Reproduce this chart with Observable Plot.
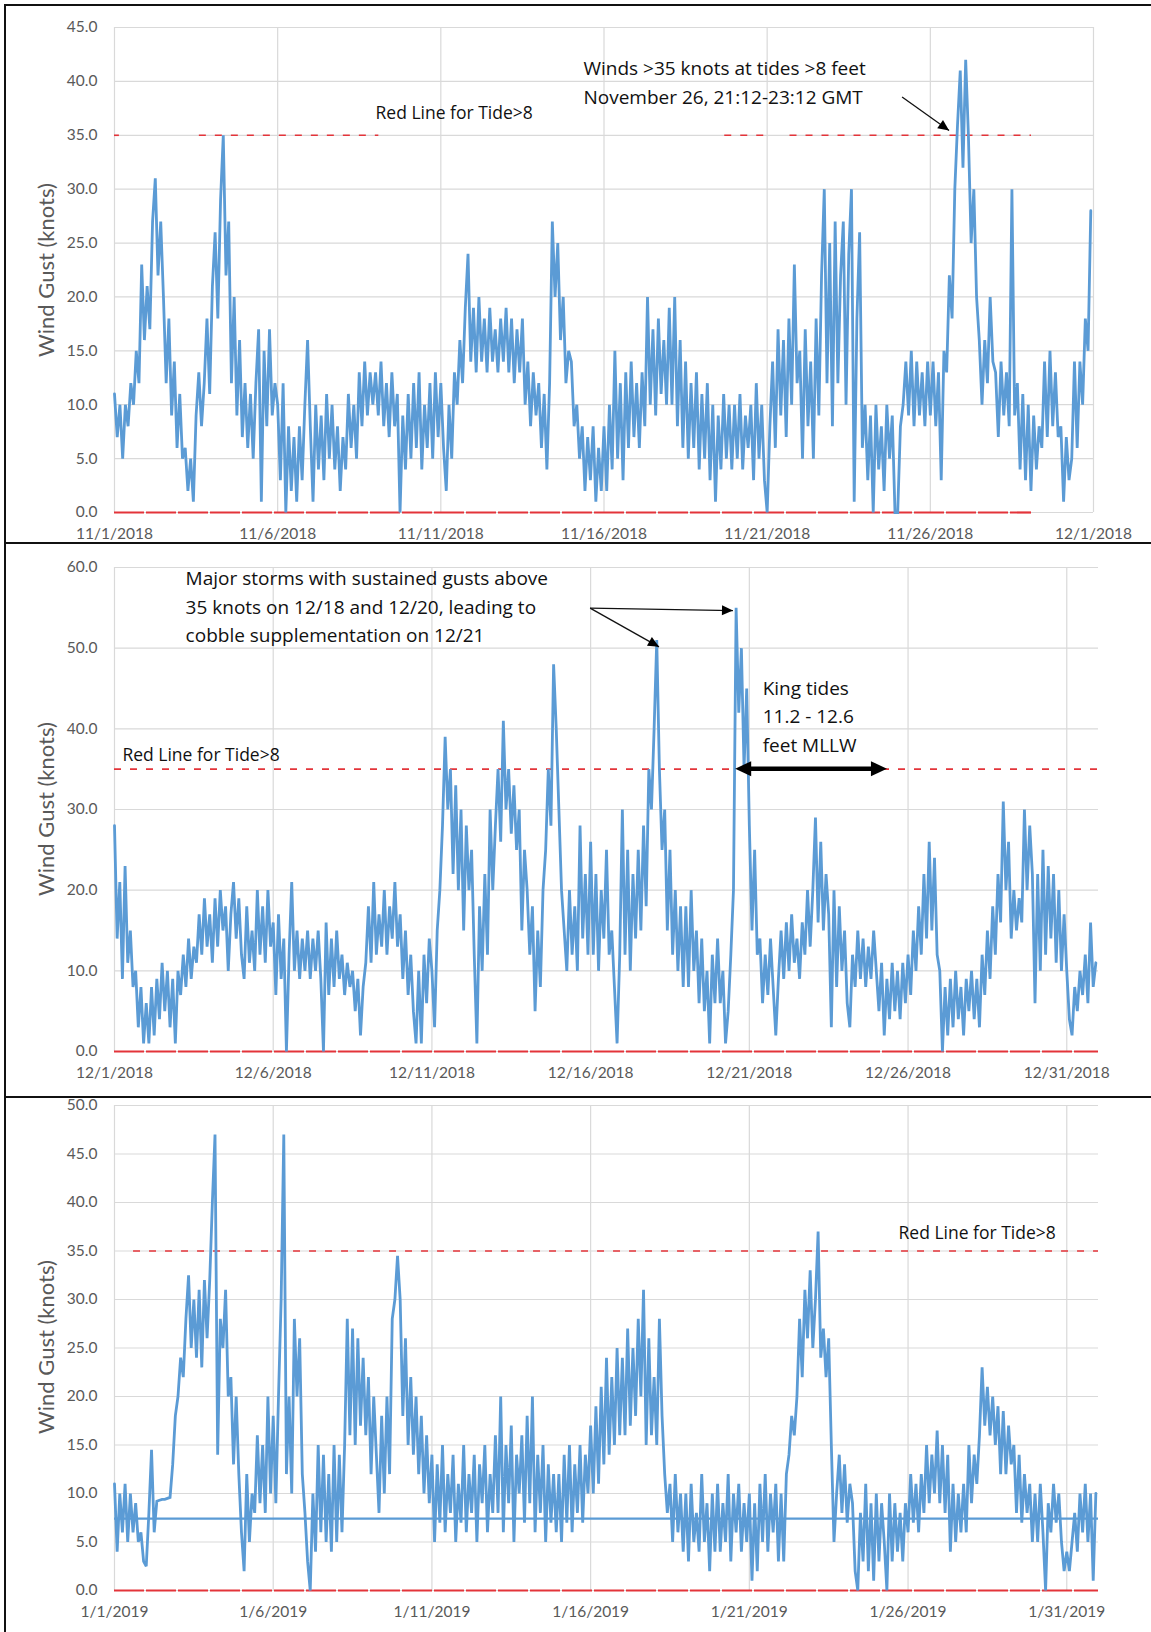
<!DOCTYPE html>
<html>
<head>
<meta charset="utf-8">
<script src="https://cdn.jsdelivr.net/npm/d3@7"></script>
<script src="https://cdn.jsdelivr.net/npm/@observablehq/plot@0.6"></script>
<style>
  html, body { margin: 0; padding: 0; background: #fff; }
  body { width: 1151px; height: 1632px; position: relative; overflow: hidden; font-family: Lato, "Open Sans", sans-serif; }
  .panel { position: absolute; left: 0; width: 1151px; }
  .frame { position: absolute; background: #111; z-index: 5; }
  .ytitle { position: absolute; left: 45px; transform: translate(-50%, -50%) rotate(-90deg); white-space: nowrap;
            font-family: Lato, sans-serif; font-size: 22px; color: #595959; z-index: 4; }
</style>
</head>
<body>
<div id="p1" class="panel" style="top:0px"></div>
<div id="p2" class="panel" style="top:543px"></div>
<div id="p3" class="panel" style="top:1098px"></div>
<div class="ytitle" style="top:270px">Wind Gust (knots)</div>
<div class="ytitle" style="top:809px">Wind Gust (knots)</div>
<div class="ytitle" style="top:1347px">Wind Gust (knots)</div>
<div class="frame" style="left:4px;top:4px;width:1147px;height:2px"></div>
<div class="frame" style="left:4px;top:4px;width:2px;height:1628px"></div>
<div class="frame" style="left:4px;top:542px;width:1147px;height:2px"></div>
<div class="frame" style="left:4px;top:1096px;width:1147px;height:2px"></div>
<script>
// ---------------- DATA (wind gust, knots; one reading every 2 hours, 12 per day) ----------------
const STEP_HOURS = 2;

const nov2018Start = "2018-11-01";
const nov2018End = "2018-12-01";
const nov2018Gust = [
  11, 7, 10, 5, 10, 8, 12, 10, 15, 12, 23, 16,
  21, 17, 27, 31, 22, 27, 20, 12, 18, 9, 14, 6,
  11, 5, 6, 2, 5, 1, 9, 13, 8, 12, 18, 11,
  21, 26, 18, 29, 35, 22, 27, 12, 20, 9, 16, 7,
  12, 6, 11, 5, 12, 17, 1, 15, 8, 17, 9, 12,
  10, 3, 12, 0, 8, 2, 7, 1, 8, 3, 10, 16,
  8, 1, 10, 4, 9, 3, 11, 5, 10, 4, 8, 2,
  7, 4, 11, 6, 10, 5, 13, 8, 14, 9, 13, 10,
  13, 9, 14, 8, 12, 7, 13, 8, 11, 0, 9, 4,
  11, 5, 12, 6, 13, 4, 10, 6, 12, 5, 13, 7,
  12, 6, 2, 10, 5, 13, 10, 16, 12, 19, 24, 14,
  19, 13, 20, 14, 18, 13, 19, 14, 17, 13, 18, 14,
  19, 13, 18, 12, 17, 13, 18, 10, 14, 8, 13, 9,
  12, 6, 11, 4, 12, 27, 20, 25, 16, 20, 12, 15,
  14, 8, 10, 5, 8, 2, 7, 3, 8, 1, 6, 2,
  8, 2, 10, 4, 15, 5, 12, 3, 13, 6, 14, 7,
  12, 6, 13, 8, 20, 10, 17, 9, 18, 11, 16, 10,
  19, 10, 20, 8, 16, 6, 14, 5, 12, 6, 13, 4,
  11, 5, 12, 3, 10, 1, 9, 4, 11, 5, 10, 4,
  10, 5, 11, 4, 9, 6, 10, 3, 12, 5, 10, 3,
  0, 8, 14, 6, 17, 9, 16, 7, 18, 10, 23, 12,
  15, 5, 17, 8, 14, 5, 18, 9, 22, 30, 12, 25,
  8, 27, 12, 22, 27, 10, 24, 30, 1, 18, 26, 6,
  10, 3, 9, 0, 10, 4, 8, 2, 10, 5, 9, 0,
  0, 8, 10, 14, 9, 15, 8, 14, 9, 13, 8, 14,
  9, 14, 8, 13, 3, 15, 13, 22, 18, 30, 36, 41,
  32, 42, 35, 25, 30, 20, 16, 10, 16, 12, 20, 14,
  13, 7, 14, 9, 13, 8, 30, 9, 12, 4, 11, 3,
  10, 2, 9, 4, 8, 6, 14, 7, 15, 8, 13, 7,
  8, 1, 7, 3, 5, 14, 6, 14, 10, 18, 15, 28
];

const dec2018Start = "2018-12-01";
const dec2018End = "2019-01-01";
const dec2018Gust = [
  28, 14, 21, 9, 23, 11, 15, 8, 10, 3, 8, 1,
  6, 1, 8, 2, 9, 4, 11, 5, 10, 3, 9, 1,
  10, 7, 12, 8, 14, 9, 13, 11, 17, 12, 19, 13,
  17, 11, 19, 13, 20, 15, 18, 10, 17, 21, 14, 19,
  12, 9, 18, 11, 15, 10, 20, 12, 18, 11, 20, 13,
  16, 7, 17, 9, 14, 0, 12, 21, 10, 15, 9, 14,
  10, 15, 9, 14, 10, 15, 9, 0, 16, 7, 14, 8,
  15, 9, 12, 7, 11, 8, 10, 5, 9, 2, 8, 11,
  18, 11, 21, 12, 17, 13, 20, 12, 18, 14, 21, 13,
  17, 9, 15, 7, 12, 5, 1, 10, 1, 12, 6, 14,
  10, 3, 15, 20, 28, 39, 30, 35, 22, 33, 20, 30,
  15, 28, 20, 25, 12, 1, 18, 10, 22, 12, 30, 20,
  28, 35, 26, 41, 30, 35, 27, 33, 25, 30, 15, 25,
  20, 12, 18, 5, 15, 8, 20, 25, 35, 28, 48, 40,
  30, 20, 15, 10, 20, 12, 18, 10, 28, 14, 22, 12,
  26, 12, 22, 10, 20, 14, 25, 12, 15, 8, 1, 12,
  30, 12, 25, 10, 22, 14, 25, 15, 28, 18, 35, 30,
  40, 51, 35, 25, 30, 15, 25, 12, 20, 10, 18, 8,
  18, 8, 20, 10, 15, 6, 14, 5, 10, 1, 12, 6,
  14, 6, 10, 1, 5, 12, 20, 55, 42, 50, 35, 45,
  28, 15, 25, 12, 14, 6, 12, 7, 14, 8, 2, 9,
  15, 9, 16, 10, 17, 11, 14, 9, 16, 12, 20, 13,
  20, 29, 16, 26, 15, 22, 17, 3, 20, 8, 18, 10,
  15, 6, 3, 12, 8, 15, 9, 14, 8, 13, 9, 15,
  10, 5, 11, 2, 9, 4, 11, 5, 10, 4, 11, 6,
  12, 7, 15, 10, 18, 12, 22, 14, 26, 15, 24, 12,
  10, 0, 8, 2, 9, 3, 10, 4, 8, 2, 9, 5,
  10, 4, 9, 3, 12, 7, 15, 9, 18, 12, 22, 16,
  31, 20, 26, 14, 20, 15, 19, 16, 30, 20, 28, 22,
  6, 22, 10, 25, 12, 23, 14, 22, 11, 20, 10, 17,
  10, 4, 2, 8, 5, 10, 7, 12, 6, 16, 8, 11
];

const jan2019Start = "2019-01-01";
const jan2019End = "2019-02-01";
const jan2019Gust = [
  11, 4, 10, 6, 11, 5, 10, 6, 9, 5, 6, 3,
  2.5, 8, 14.5, 6, 9.2, 9.3, 9.4, 9.4, 9.5, 9.6, 13, 18,
  20, 24, 22, 28, 32.5, 25, 30, 24, 31, 23, 32, 26,
  32, 40, 47, 14, 28, 25, 31, 20, 22, 13, 20, 12,
  6, 2, 12, 5, 10, 8, 16, 9, 15, 8, 20, 10,
  18, 9, 20, 30, 47, 12, 20, 10, 28, 20, 26, 12,
  8, 3, 0, 10, 4, 15, 6, 14, 5, 12, 4, 15,
  5, 14, 6, 15, 28, 16, 27, 15, 26, 17, 24, 16,
  22, 12, 20, 14, 8, 18, 10, 20, 12, 28, 30, 34.5,
  30, 18, 26, 15, 22, 14, 20, 12, 18, 10, 16, 9,
  14, 5, 13, 7, 15, 6, 12, 8, 14, 5, 11, 7,
  15, 6, 12, 8, 14, 5, 13, 9, 15, 6, 12, 8,
  16, 8, 20, 6, 15, 9, 17, 5, 14, 10, 16, 7,
  18, 9, 20, 6, 14, 8, 15, 5, 13, 7, 12, 6,
  12, 5, 14, 7, 15, 6, 13, 8, 15, 7, 14, 10,
  17, 10, 19, 11, 21, 13, 24, 14, 22, 15, 25, 16,
  24, 16, 27, 17, 25, 18, 28, 20, 31, 15, 26, 16,
  22, 15, 28, 18, 12, 8, 11, 5, 12, 6, 10, 4,
  10, 3, 11, 5, 8, 4, 12, 5, 9, 2, 10, 4,
  11, 4, 9, 5, 12, 3, 10, 6, 11, 4, 9, 5,
  10, 1, 9, 2, 11, 5, 12, 4, 10, 6, 11, 3,
  10, 3, 12, 14, 18, 16, 20, 28, 22, 31, 26, 33,
  25, 30, 37, 24, 27, 22, 26, 15, 5, 10, 14, 8,
  13, 7, 11, 9, 2, 0, 8, 3, 11, 2, 9, 1,
  10, 3, 9, 5, 0, 10, 3, 9, 4, 8, 3, 9,
  6, 12, 7, 11, 6, 12, 8, 15, 9, 14, 10, 16.5,
  9, 15, 8, 14, 4, 11, 5, 10, 6, 11, 6, 15,
  9, 14, 11, 16, 23, 17, 21, 16, 20, 15, 19, 12,
  18.5, 12, 17, 13, 15, 8, 14, 7, 12, 8, 11, 5,
  10, 5, 11, 6, 0, 9, 6, 11, 7, 10, 5, 2,
  4, 2, 5, 8, 4, 10, 6, 11, 5, 10, 1, 10
];
const jan2019FlatLine = 7.4;

// tick labels
const nov2018TickDates = ["2018-11-01","2018-11-06","2018-11-11","2018-11-16","2018-11-21","2018-11-26","2018-12-01"];
const nov2018TickLabels = ["11/1/2018","11/6/2018","11/11/2018","11/16/2018","11/21/2018","11/26/2018","12/1/2018"];
const dec2018TickDates = ["2018-12-01","2018-12-06","2018-12-11","2018-12-16","2018-12-21","2018-12-26","2018-12-31"];
const dec2018TickLabels = ["12/1/2018","12/6/2018","12/11/2018","12/16/2018","12/21/2018","12/26/2018","12/31/2018"];
const jan2019TickDates = ["2019-01-01","2019-01-06","2019-01-11","2019-01-16","2019-01-21","2019-01-26","2019-01-31"];
const jan2019TickLabels = ["1/1/2019","1/6/2019","1/11/2019","1/16/2019","1/21/2019","1/26/2019","1/31/2019"];

const nov2018YTicks = [0, 5, 10, 15, 20, 25, 30, 35, 40, 45];
const dec2018YTicks = [0, 10, 20, 30, 40, 50, 60];
const jan2019YTicks = [0, 5, 10, 15, 20, 25, 30, 35, 40, 45, 50];

// "Red line" (tide > 8 ft) periods, in days from the start of each month
const redLineLevel = 35;
const nov2018TideSpans = [[0, 0.15], [2.6, 8.1], [18.7, 20.0], [20.7, 28.1]];
const nov2018ZeroSpans = [[0, 28.1]];
const dec2018TideSpans = [[0, 31]];
const dec2018ZeroSpans = [[0, 31]];
const jan2019TideSpans = [[0.6, 31]];
const jan2019ZeroSpans = [[0, 31]];

// annotations (day offset, value)
const nov2018Notes = [
  {d: 14.37, v: 40.1, text: "Winds >35 knots at tides >8 feet\nNovember 26, 21:12-23:12 GMT", size: 19},
  {d: 8.0, v: 37.0, text: "Red Line for Tide>8", size: 17.5}
];
const nov2018Arrows = [{d1: 24.15, v1: 38.5, d2: 25.59, v2: 35.4}];
const dec2018Notes = [
  {d: 2.24, v: 55.4, text: "Major storms with sustained gusts above\n35 knots on 12/18 and 12/20, leading to\ncobble supplementation on 12/21", size: 19},
  {d: 20.42, v: 41.8, text: "King tides\n11.2 - 12.6\nfeet MLLW", size: 19},
  {d: 0.25, v: 36.7, text: "Red Line for Tide>8", size: 17.5}
];
const dec2018Arrows = [{d1: 15.0, v1: 54.9, d2: 19.5, v2: 54.6}, {d1: 15.0, v1: 54.9, d2: 17.17, v2: 50.1}];
const dec2018DoubleArrow = {d1: 19.57, d2: 24.35, v: 35};
const jan2019Notes = [
  {d: 24.7, v: 36.8, text: "Red Line for Tide>8", size: 17.5}
];

// ---------------- DRAWING ----------------
const BLUE = "#5b9bd5";
const RED = "#e3343a";
const GRID = "#d9d9d9";
const DAYMS = 864e5;
const toDate = s => new Date(s + "T00:00:00Z");

function series(startStr, values) {
  const t0 = toDate(startStr).getTime();
  return values.map((v, i) => ({t: new Date(t0 + i * STEP_HOURS * 3600e3), v}));
}
function spans(startStr, list, y) {
  const t0 = toDate(startStr).getTime();
  return list.map(([a, b]) => ({x1: new Date(t0 + a * DAYMS), x2: new Date(t0 + b * DAYMS), y}));
}
function notesAt(startStr, list) {
  const t0 = toDate(startStr).getTime();
  return list.map(n => ({...n, t: new Date(t0 + n.d * DAYMS)}));
}

function head(g, x1, y1, x2, y2, L, W) {
  const a = Math.atan2(y2 - y1, x2 - x1);
  const bx = x2 - L * Math.cos(a), by = y2 - L * Math.sin(a);
  const px = -Math.sin(a) * W, py = Math.cos(a) * W;
  g.append("polygon").attr("points", `${x2},${y2} ${bx + px},${by + py} ${bx - px},${by - py}`).attr("fill", "#000");
}

function makePanel(cfg) {
  const data = series(cfg.start, cfg.values);
  const tickMap = new Map(cfg.tickDates.map((d, i) => [toDate(d).getTime(), cfg.tickLabels[i]]));
  const ticks = cfg.tickDates.map(toDate);
  const notes = notesAt(cfg.start, cfg.notes);
  const marks = [
    Plot.gridX(ticks, {stroke: GRID, strokeOpacity: 1, strokeWidth: 1.2}),
    Plot.gridY(cfg.yTicks, {stroke: GRID, strokeOpacity: 1, strokeWidth: 1.2}),
    Plot.axisY(cfg.yTicks, {tickSize: 0, tickPadding: 17, fontSize: 15.5, tickFormat: d3.format(".1f"), label: null}),
    Plot.axisX(ticks, {tickSize: 0, tickPadding: 15, fontSize: 15.5, tickFormat: d => tickMap.get(d.getTime()), label: null}),
    Plot.ruleY(spans(cfg.start, cfg.zeroSpans, 0), {x1: "x1", x2: "x2", y: "y", stroke: RED, strokeWidth: 2.2, strokeDasharray: "30,2"}),
    Plot.ruleY(spans(cfg.start, cfg.tideSpans, redLineLevel), {x1: "x1", x2: "x2", y: "y", stroke: RED, strokeWidth: 1.6, strokeDasharray: "7,9"})
  ];
  if (cfg.flat != null) marks.push(Plot.ruleY([cfg.flat], {stroke: BLUE, strokeWidth: 2.2}));
  marks.push(Plot.line(data, {x: "t", y: "v", stroke: BLUE, strokeWidth: 2.8, strokeLinejoin: "miter", strokeMiterlimit: 2}));
  marks.push(Plot.text(notes.filter(n => n.size >= 19), {
    x: "t", y: "v", text: "text", textAnchor: "start", lineAnchor: "middle",
    fontSize: 19, lineHeight: 1.5, fill: "#111", fontFamily: "'Open Sans', sans-serif"
  }));
  marks.push(Plot.text(notes.filter(n => n.size < 19), {
    x: "t", y: "v", text: "text", textAnchor: "start", lineAnchor: "middle",
    fontSize: 17.5, fill: "#111", fontFamily: "'Open Sans', sans-serif"
  }));
  const chart = Plot.plot({
    width: 1151, height: cfg.height,
    marginLeft: 114, marginRight: cfg.marginRight, marginTop: cfg.marginTop, marginBottom: cfg.marginBottom,
    x: {type: "utc", domain: [toDate(cfg.start), toDate(cfg.end)], axis: null},
    y: {domain: [0, cfg.yTicks[cfg.yTicks.length - 1]], axis: null},
    style: {fontFamily: "Lato, 'Open Sans', sans-serif", color: "#595959", background: "transparent", overflow: "visible"},
    marks
  });
  // annotation arrows, positioned with the chart's own scales
  const sx = chart.scale("x"), sy = chart.scale("y");
  const t0 = toDate(cfg.start).getTime();
  const X = d => sx.apply(new Date(t0 + d * DAYMS)), Y = v => sy.apply(v);
  const g = d3.select(chart).append("g");
  (cfg.arrows || []).forEach(a => {
    const x1 = X(a.d1), y1 = Y(a.v1), x2 = X(a.d2), y2 = Y(a.v2);
    g.append("line").attr("x1", x1).attr("y1", y1).attr("x2", x2).attr("y2", y2).attr("stroke", "#111").attr("stroke-width", 1.3);
    head(g, x1, y1, x2, y2, 11, 5);
  });
  if (cfg.doubleArrow) {
    const a = cfg.doubleArrow;
    const x1 = X(a.d1), x2 = X(a.d2), y = Y(a.v);
    g.append("line").attr("x1", x1 + 10).attr("y1", y).attr("x2", x2 - 10).attr("y2", y).attr("stroke", "#000").attr("stroke-width", 4.5);
    head(g, x1 + 10, y, x2, y, 16, 7.5);
    head(g, x2 - 10, y, x1, y, 16, 7.5);
  }
  document.getElementById(cfg.el).appendChild(chart);
}

makePanel({el: "p1", start: nov2018Start, end: nov2018End, values: nov2018Gust, height: 543,
  marginTop: 27, marginBottom: 31, marginRight: 58,
  tickDates: nov2018TickDates, tickLabels: nov2018TickLabels, yTicks: nov2018YTicks,
  tideSpans: nov2018TideSpans, zeroSpans: nov2018ZeroSpans, notes: nov2018Notes, arrows: nov2018Arrows});
makePanel({el: "p2", start: dec2018Start, end: dec2018End, values: dec2018Gust, height: 555,
  marginTop: 24, marginBottom: 47, marginRight: 53,
  tickDates: dec2018TickDates, tickLabels: dec2018TickLabels, yTicks: dec2018YTicks,
  tideSpans: dec2018TideSpans, zeroSpans: dec2018ZeroSpans, notes: dec2018Notes, arrows: dec2018Arrows,
  doubleArrow: dec2018DoubleArrow});
makePanel({el: "p3", start: jan2019Start, end: jan2019End, values: jan2019Gust, height: 534,
  marginTop: 7, marginBottom: 42, marginRight: 53,
  tickDates: jan2019TickDates, tickLabels: jan2019TickLabels, yTicks: jan2019YTicks,
  tideSpans: jan2019TideSpans, zeroSpans: jan2019ZeroSpans, notes: jan2019Notes, flat: jan2019FlatLine});
</script>
</body>
</html>
